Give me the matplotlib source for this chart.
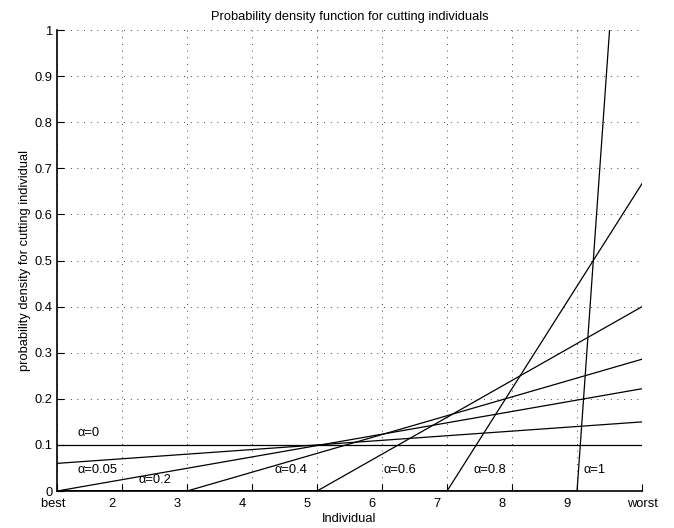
import numpy as np
import matplotlib
matplotlib.use('Agg')
import matplotlib.pyplot as plt

plt.rcParams['font.family'] = ['Liberation Sans', 'DejaVu Sans']
plt.rcParams['font.size'] = 9.3

# density lines: zero from x=1 up to x_start, then linear up to x=10
alphas = ['0', '0.05', '0.2', '0.4', '0.6', '0.8', '1']
x_start = [1, 1, 1, 3, 5, 7, 9]
y_start = [0.1, 0.06, 0.0, 0.0, 0.0, 0.0, 0.0]
y_end = [0.1, 0.15, 0.222, 0.286, 0.4, 0.667, 2.0]
x_last = 10

tick_pos = [1, 2, 3, 4, 5, 6, 7, 8, 9, 10]
tick_txt = ['best', '2', '3', '4', '5', '6', '7', '8', '9', 'worst']

# where the alpha labels sit (left edge, vertical centre)
lab_x = [1.32, 1.32, 2.25, 4.35, 6.02, 7.4, 9.1]
lab_y = [0.126, 0.046, 0.024, 0.046, 0.046, 0.046, 0.046]

fig = plt.figure(figsize=(6.74, 5.28), dpi=100)
ax = fig.add_axes([0.0846, 0.070, 0.868, 0.873])

for xs, ys, ye in zip(x_start, y_start, y_end):
    ax.plot([1, xs, x_last], [ys if xs == 1 else 0, ys, ye],
            color='k', linewidth=0.9, clip_on=True)

for a, lx, ly in zip(alphas, lab_x, lab_y):
    ax.text(lx, ly, '\u03b1=' + a, ha='left', va='center')

ax.set_xlim(1, 10)
ax.set_ylim(0, 1)
ax.set_xticks(tick_pos)
# matlab pads the char matrix labels with trailing blanks
width = max(len(t) for t in tick_txt)
ax.set_xticklabels([t.ljust(width + 1) if t != 'worst' else t
                    for t in tick_txt])
ax.set_yticks(np.round(np.arange(0, 1.01, 0.1), 1))
ax.set_yticklabels(['0', '0.1', '0.2', '0.3', '0.4', '0.5', '0.6', '0.7',
                    '0.8', '0.9', '1'])
ax.tick_params(direction='in', length=5, width=0.8)
ax.tick_params(axis='x', pad=5)
ax.tick_params(axis='y', pad=3)

ax.grid(True, color='k', linestyle=(0, (1, 7)), linewidth=0.6)
ax.spines['top'].set_visible(False)
ax.spines['right'].set_visible(False)
ax.spines['left'].set_linewidth(1.2)
ax.spines['bottom'].set_linewidth(1.2)

ax.set_title('Probability density function for cutting individuals',
             fontsize=9.3, pad=7)
ax.set_xlabel('Individual', labelpad=2)
ax.set_ylabel('probability density for cutting individual', labelpad=3)

fig.savefig('out.png', dpi=100)
